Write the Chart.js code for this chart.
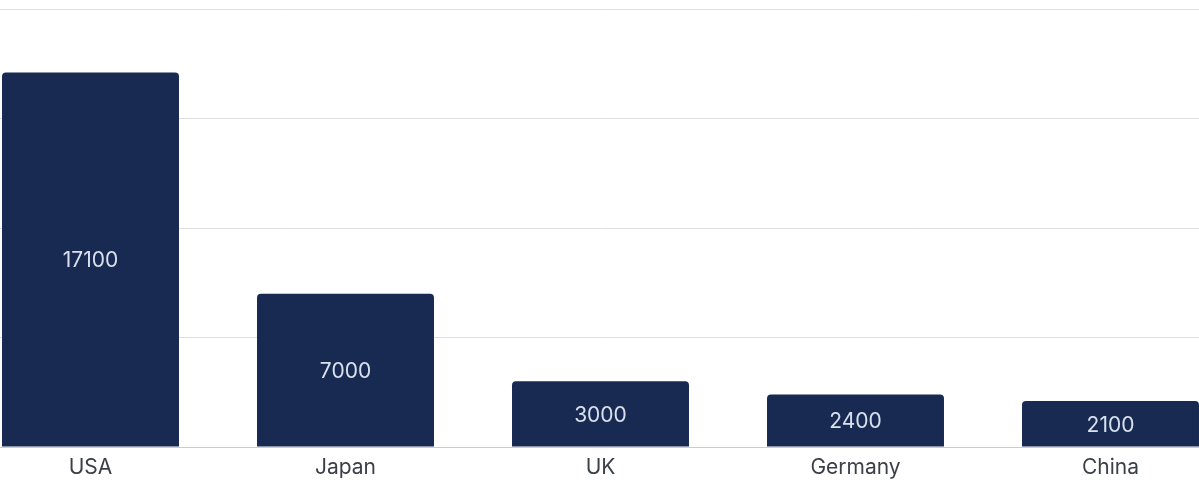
<!DOCTYPE html>
<html>
<head>
<meta charset="utf-8">
<script src="https://cdn.jsdelivr.net/npm/chart.js@4"></script>
<style>
  html, body { margin: 0; padding: 0; background: #fff; overflow: hidden; }
  #wrap { position: absolute; left: -37px; top: 0; width: 1275px; height: 482px; }
</style>
</head>
<body>
<div id="wrap"><canvas id="myChart"></canvas></div>
<script>
var countries = ['USA', 'Japan', 'UK', 'Germany', 'China'];
var values = [17100, 7000, 3000, 2400, 2100];
var yTicks = [0, 5000, 10000, 15000, 20000];

// labels drawn in the middle of each bar
const barLabels = {
    id: 'barLabels',
    afterDatasetsDraw(chart) {
        const c = chart.ctx;
        const meta = chart.getDatasetMeta(0);
        c.save();
        c.fillStyle = '#d9e1ee';
        c.font = '21px Inter';
        c.textAlign = 'center';
        c.textBaseline = 'middle';
        meta.data.forEach((bar, i) => {
            const mid = (bar.y + bar.base) / 2 + 1.5;
            c.fillText(values[i], bar.x, mid);
        });
        c.restore();
    }
};

const ctx = document.getElementById('myChart').getContext('2d');

const myChart = new Chart(ctx, {
    type: 'bar',
    data: {
        labels: countries,
        datasets: [{
            label: 'Value',
            data: values,
            backgroundColor: '#182a52',
            borderRadius: 4,
            categoryPercentage: 1,
            barPercentage: 0.694
        }]
    },
    options: {
        responsive: true,
        maintainAspectRatio: false,
        animation: false,
        layout: { padding: { top: 9, left: 0, right: 0, bottom: 0 } },
        plugins: {
            legend: { display: false },
            tooltip: { enabled: false }
        },
        scales: {
            x: {
                grid: { display: false, drawTicks: false },
                border: { color: '#cccccc' },
                ticks: {
                    color: '#3b3f47',
                    font: { family: 'Inter', size: 21 },
                    padding: 8
                },
                afterFit: (axis) => { axis.height = 35; }
            },
            y: {
                min: yTicks[0],
                max: yTicks[yTicks.length - 1],
                afterBuildTicks: (axis) => {
                    axis.ticks = yTicks.map(v => ({ value: v }));
                },
                ticks: { display: false },
                border: { display: false },
                grid: { color: '#dedede', drawTicks: false }
            }
        }
    },
    plugins: [barLabels]
});
</script>
</body>
</html>
